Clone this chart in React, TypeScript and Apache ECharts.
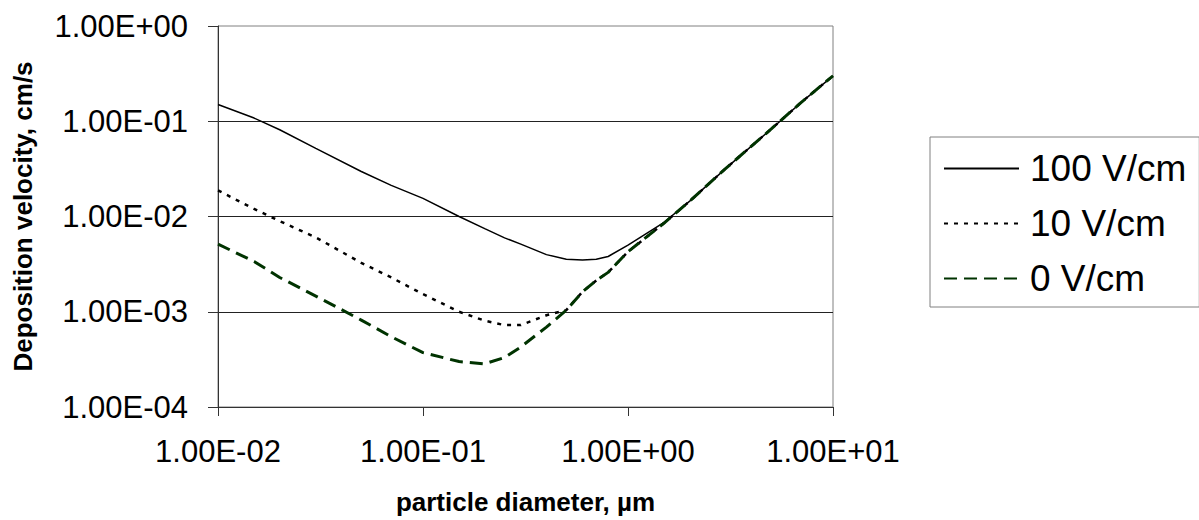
import React, { useEffect, useRef } from "react";
import * as echarts from "echarts";

const diameters = [0.01, 0.015, 0.02, 0.03, 0.05, 0.07, 0.1, 0.15, 0.2, 0.25, 0.3, 0.4, 0.5, 0.6, 0.7, 0.8, 1.0, 1.5, 2, 3, 5, 7, 10];
const v100 = [0.150, 0.108, 0.0815, 0.052, 0.0297, 0.0212, 0.0155, 0.0100, 0.00745, 0.00597, 0.00513, 0.00398, 0.00355, 0.0035, 0.00355, 0.0038, 0.0050, 0.0087, 0.0145, 0.032, 0.083, 0.158, 0.30];
const v10 = [0.0188, 0.0120, 0.00895, 0.00603, 0.00326, 0.00229, 0.00153, 0.00100, 0.000805, 0.000724, 0.000724, 0.000918, 0.00104, 0.00162, 0.00213, 0.00259, 0.00427, 0.00853, 0.0145, 0.032, 0.083, 0.158, 0.30];
const v0 = [0.00513, 0.00337, 0.00229, 0.00146, 0.000817, 0.000547, 0.000372, 0.000300, 0.000284, 0.000331, 0.000427, 0.00069, 0.00104, 0.00162, 0.00213, 0.00259, 0.00427, 0.00853, 0.0145, 0.032, 0.083, 0.158, 0.30];
const seriesNames = ["100 V/cm", "10 V/cm", "0 V/cm"];

const FONT = "'Liberation Sans', Arial, sans-serif";

function sci(v: number): string {
  if (!(v > 0)) return "";
  const e = Math.round(Math.log10(v));
  const m = v / Math.pow(10, e);
  const s = e < 0 ? "-" : "+";
  return m.toFixed(2) + "E" + s + String(Math.abs(e)).padStart(2, "0");
}

function pairs(xs: number[], ys: number[]) {
  return xs.map((x, i) => [x, ys[i]]);
}

export default function App() {
  const ref = useRef<HTMLDivElement>(null);
  useEffect(() => {
    if (!ref.current) return;
    const chart = echarts.init(ref.current, undefined, { renderer: "svg" });
    chart.setOption({
      animation: false,
      backgroundColor: "#fff",
      textStyle: { fontFamily: FONT },
      grid: {
        left: 218,
        top: 26,
        right: 366,
        bottom: 105.5,
        show: true,
        borderColor: "#808080",
        borderWidth: 1,
        backgroundColor: "transparent",
      },
      legend: {
        orient: "vertical",
        left: 930,
        top: 137,
        itemWidth: 75,
        itemHeight: 4,
        itemGap: 18,
        padding: [13, 13, 10, 13],
        borderColor: "#808080",
        borderWidth: 1,
        borderRadius: 0,
        itemStyle: { color: "transparent", borderWidth: 0, opacity: 0 },
        textStyle: { fontSize: 37, lineHeight: 37, color: "#000", fontFamily: FONT, padding: [0, 0, 0, 6] },
        data: seriesNames,
      },
      xAxis: {
        type: "log",
        logBase: 10,
        min: 0.01,
        max: 10,
        name: "particle diameter, µm",
        nameLocation: "middle",
        nameGap: 82,
        nameTextStyle: { fontSize: 26, fontWeight: "bold", color: "#000", fontFamily: FONT },
        axisLine: { show: true, lineStyle: { color: "#333", width: 1 } },
        axisTick: { show: true, length: 9, lineStyle: { color: "#333" } },
        minorTick: { show: false },
        axisLabel: { fontSize: 31, color: "#000", margin: 29, formatter: (v: number) => sci(v), fontFamily: FONT },
        splitLine: { show: false },
      },
      yAxis: {
        type: "log",
        logBase: 10,
        min: 0.0001,
        max: 1,
        name: "Deposition velocity, cm/s",
        nameLocation: "middle",
        nameGap: 182,
        nameTextStyle: { fontSize: 26, fontWeight: "bold", color: "#000", fontFamily: FONT },
        axisLine: { show: true, lineStyle: { color: "#333", width: 1 } },
        axisTick: { show: true, length: 10, lineStyle: { color: "#333" } },
        minorTick: { show: false },
        axisLabel: { fontSize: 31, color: "#000", margin: 30, formatter: (v: number) => sci(v), fontFamily: FONT },
        splitLine: { show: true, showMinLine: false, showMaxLine: false, lineStyle: { color: "#222", width: 1 } },
      },
      series: [
        {
          name: seriesNames[0],
          type: "line",
          data: pairs(diameters, v100),
          symbol: "none",
          lineStyle: { color: "#000", width: 1.5, type: "solid" },
          itemStyle: { color: "#000" },
          z: 2,
        },
        {
          name: seriesNames[1],
          type: "line",
          data: pairs(diameters, v10),
          symbol: "none",
          lineStyle: { color: "#000", width: 2.5, type: [4, 6] },
          itemStyle: { color: "#000" },
          z: 3,
        },
        {
          name: seriesNames[2],
          type: "line",
          data: pairs(diameters, v0),
          symbol: "none",
          lineStyle: { color: "#003300", width: 3, type: [13, 7] },
          itemStyle: { color: "#003300" },
          z: 4,
        },
      ],
    });
    return () => chart.dispose();
  }, []);
  return (
    <div
      ref={ref}
      style={{ position: "fixed", left: 0, top: 0, width: 1199, height: 520, background: "#fff" }}
    />
  );
}
